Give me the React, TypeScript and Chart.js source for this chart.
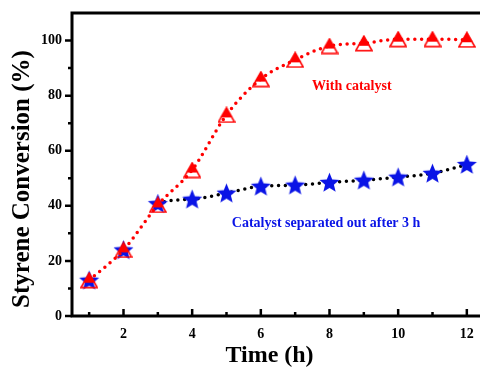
import { useEffect, useRef } from 'react';
import { Chart, registerables } from 'chart.js';

Chart.register(...registerables);

// Reaction time (h) and styrene conversion (%)
const hours = [1, 2, 3, 4, 5, 6, 7, 8, 9, 10, 11, 12];
const withCatalyst = [13, 24, 40.3, 53, 73, 86, 93, 98, 99, 100.5, 100.5, 100.3];
const separatedAfter3h = [13, 24, 40.8, 42.4, 44.6, 47.1, 47.5, 48.5, 49.3, 50.4, 51.8, 55];

const xTickLabels = [2, 4, 6, 8, 10, 12];
const xMinorTicks = [1, 3, 5, 7, 9, 11];
const yTickLabels = [0, 20, 40, 60, 80, 100];
const yMinorTicks = [10, 30, 50, 70, 90];

const SERIF = '"Liberation Serif", "Times New Roman", serif';
const RED = '#ff0000';
const BLUE = '#0a14e6';

function makeTriangle(color: string): HTMLCanvasElement {
  const c = document.createElement('canvas');
  c.width = 18;
  c.height = 17;
  const g = c.getContext('2d')!;
  g.strokeStyle = color;
  g.lineWidth = 1.6;
  g.beginPath();
  g.moveTo(9, 1.5);
  g.lineTo(17, 15.7);
  g.lineTo(1, 15.7);
  g.closePath();
  g.stroke();
  g.fillStyle = color;
  g.beginPath();
  g.moveTo(9, 0.5);
  g.lineTo(15.2, 11);
  g.lineTo(2.8, 11);
  g.closePath();
  g.fill();
  return c;
}

function makeStar(color: string, R: number, r: number): HTMLCanvasElement {
  const size = Math.ceil(2 * R + 2);
  const c = document.createElement('canvas');
  c.width = size;
  c.height = size;
  const g = c.getContext('2d')!;
  const cx = size / 2;
  const cy = size / 2 + 0.8;
  g.fillStyle = color;
  g.beginPath();
  for (let i = 0; i < 10; i++) {
    const a = -Math.PI / 2 + (i * Math.PI) / 5;
    const rad = i % 2 === 0 ? R : r;
    const px = cx + rad * Math.cos(a);
    const py = cy + rad * Math.sin(a);
    if (i === 0) g.moveTo(px, py);
    else g.lineTo(px, py);
  }
  g.closePath();
  g.fill();
  return c;
}

const framePlugin = {
  id: 'frameAndTicks',
  beforeDatasetsDraw(chart: any) {
    const { ctx, chartArea: a, scales } = chart;
    const xs = scales.x;
    const ys = scales.y;
    ctx.save();
    ctx.strokeStyle = '#000';
    ctx.lineWidth = 3;
    ctx.strokeRect(a.left, a.top, a.right - a.left, a.bottom - a.top);
    ctx.lineWidth = 2.5;
    ctx.beginPath();
    // y ticks point outward
    yTickLabels.forEach((v) => {
      const y = ys.getPixelForValue(v);
      ctx.moveTo(a.left - 7, y);
      ctx.lineTo(a.left, y);
    });
    yMinorTicks.forEach((v) => {
      const y = ys.getPixelForValue(v);
      ctx.moveTo(a.left - 4, y);
      ctx.lineTo(a.left, y);
    });
    // x ticks point inward
    xTickLabels.forEach((v) => {
      const x = xs.getPixelForValue(v);
      ctx.moveTo(x, a.bottom);
      ctx.lineTo(x, a.bottom - 7);
    });
    xMinorTicks.forEach((v) => {
      const x = xs.getPixelForValue(v);
      ctx.moveTo(x, a.bottom);
      ctx.lineTo(x, a.bottom - 4);
    });
    ctx.stroke();
    ctx.restore();
  },
  afterDatasetsDraw(chart: any) {
    const { ctx, scales } = chart;
    const xs = scales.x;
    const ys = scales.y;
    ctx.save();
    ctx.textAlign = 'center';
    ctx.textBaseline = 'middle';
    ctx.font = `bold 14px ${SERIF}`;
    ctx.fillStyle = RED;
    ctx.fillText('With catalyst', xs.getPixelForValue(8.65), ys.getPixelForValue(83.3));
    ctx.fillStyle = BLUE;
    ctx.fillText('Catalyst separated out after 3 h', xs.getPixelForValue(7.9), ys.getPixelForValue(33.7));

    // axis titles
    ctx.fillStyle = '#000';
    ctx.font = `bold 24px ${SERIF}`;
    ctx.fillText('Time (h)', 269.5, 356);
    ctx.font = `bold 25px ${SERIF}`;
    ctx.translate(23, 179);
    ctx.rotate(-Math.PI / 2);
    ctx.fillText('Styrene Conversion (%)', 0, 0);
    ctx.restore();
  },
};

export default function App() {
  const ref = useRef<HTMLCanvasElement>(null);

  useEffect(() => {
    document.body.style.margin = '0';
    const canvas = ref.current!;
    const tri = makeTriangle(RED);
    const star = makeStar(BLUE, 10.5, 4.6);
    const tickFont = { family: SERIF, size: 14, weight: 'bold' as const };

    const chart = new Chart(canvas, {
      type: 'line',
      data: {
        labels: hours,
        datasets: [
          {
            label: 'With catalyst',
            data: hours.map((h, i) => ({ x: h, y: withCatalyst[i] })),
            borderColor: RED,
            borderWidth: 3.5,
            borderDash: [0, 6.8],
            borderCapStyle: 'round',
            cubicInterpolationMode: 'monotone',
            pointStyle: tri,
            pointRadius: 9,
            order: 0,
          },
          {
            label: 'Catalyst separated out after 3 h',
            data: hours.map((h, i) => ({ x: h, y: separatedAfter3h[i] })),
            borderColor: '#000',
            borderWidth: 3.5,
            borderDash: [0, 6.8],
            borderCapStyle: 'round',
            cubicInterpolationMode: 'monotone',
            segment: {
              borderColor: (c: any) => (c.p0DataIndex < 2 ? 'rgba(0,0,0,0)' : '#000'),
            },
            pointStyle: star,
            pointRadius: 10,
            order: 1,
          },
        ],
      },
      options: {
        animation: false,
        responsive: false,
        devicePixelRatio: 1,
        layout: { autoPadding: false, padding: { top: 13, right: 8, left: 0, bottom: 0 } },
        plugins: { legend: { display: false }, tooltip: { enabled: false } },
        scales: {
          x: {
            type: 'linear',
            min: 0.5,
            max: 12.5,
            afterFit: (s: any) => {
              s.height = 54;
              s.paddingLeft = 0;
              s.paddingRight = 0;
            },
            afterBuildTicks: (s: any) => {
              s.ticks = xTickLabels.map((v) => ({ value: v }));
            },
            grid: { display: false, drawTicks: false },
            border: { display: false },
            ticks: { font: tickFont, color: '#000', padding: 10, maxRotation: 0, autoSkip: false },
          },
          y: {
            type: 'linear',
            min: 0,
            max: 110,
            afterFit: (s: any) => {
              s.width = 72;
              s.paddingTop = 0;
              s.paddingBottom = 0;
            },
            afterBuildTicks: (s: any) => {
              s.ticks = yTickLabels.map((v) => ({ value: v }));
            },
            grid: { display: false, drawTicks: false },
            border: { display: false },
            ticks: { font: tickFont, color: '#000', padding: 10, autoSkip: false },
          },
        },
      },
      plugins: [framePlugin],
    } as any);

    return () => chart.destroy();
  }, []);

  return (
    <div style={{ position: 'fixed', left: 0, top: 0, width: 480, height: 370, overflow: 'hidden', background: '#fff' }}>
      <canvas ref={ref} width={492} height={370} style={{ display: 'block', width: 492, height: 370 }} />
    </div>
  );
}
